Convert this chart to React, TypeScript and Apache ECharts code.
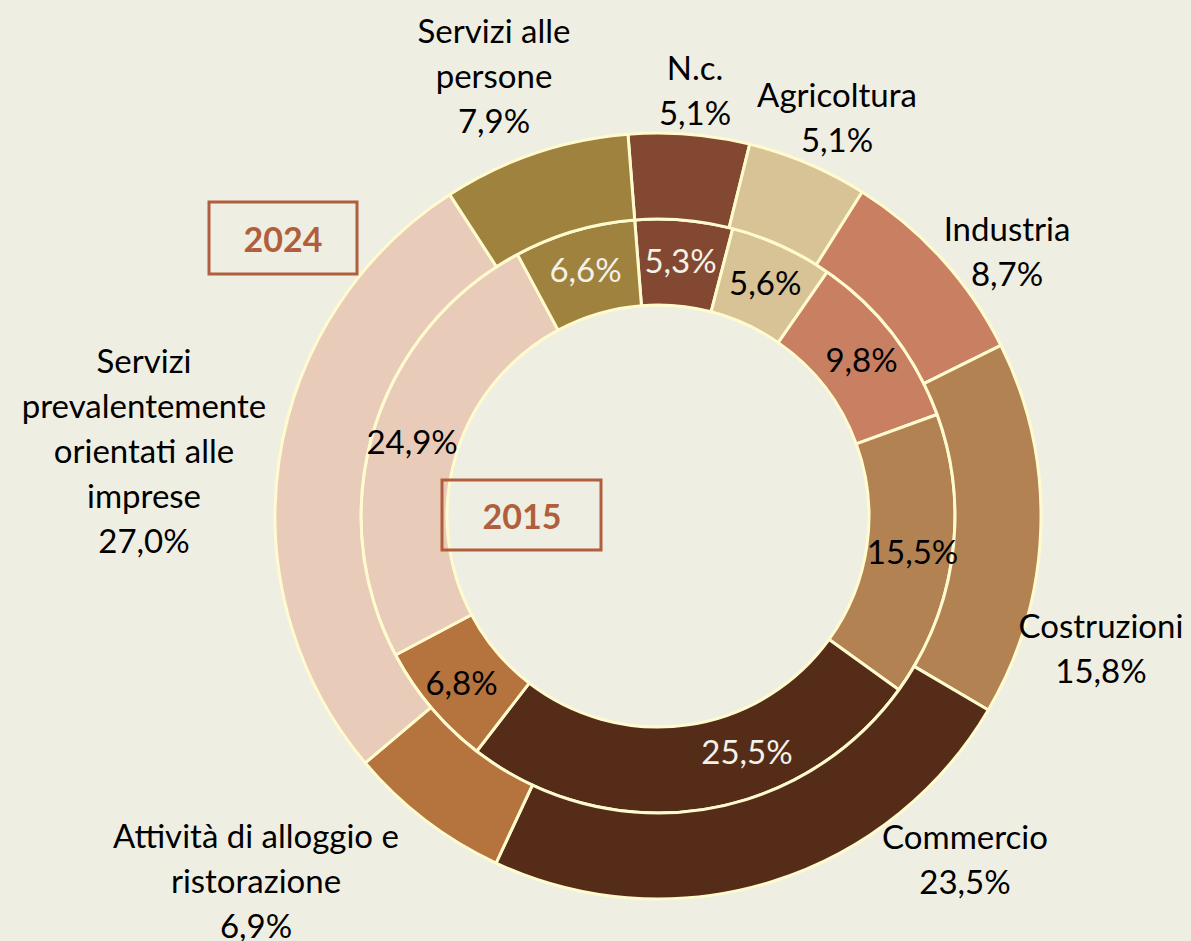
import React, { useEffect, useRef } from "react";
import * as echarts from "echarts";

const categories = [
  "N.c.",
  "Agricoltura",
  "Industria",
  "Costruzioni",
  "Commercio",
  "Attività di alloggio e ristorazione",
  "Servizi prevalentemente orientati alle imprese",
  "Servizi alle persone",
];
const values2024 = [5.1, 5.1, 8.7, 15.8, 23.5, 6.9, 27.0, 7.9];
const values2015 = [5.3, 5.6, 9.8, 15.5, 25.5, 6.8, 24.9, 6.6];
const yearLabels = ["2024", "2015"];

const wrappedNames: Record<string, string> = {
  "Attività di alloggio e ristorazione": "Attività di alloggio e\nristorazione",
  "Servizi prevalentemente orientati alle imprese": "Servizi\nprevalentemente\norientati alle\nimprese",
  "Servizi alle persone": "Servizi alle\npersone",
};

const colors = ["#834831", "#D7C396", "#C98062", "#B28252", "#552C18", "#B5733E", "#E8CCB9", "#9E823E"];
const innerTextColors = ["#F3F1E8", "#000000", "#000000", "#000000", "#F3F1E8", "#000000", "#000000", "#F3F1E8"];

// label layout (block centres / shifts), not data
const outerLabelPos = [
  [695, 89], [837, 116], [1007, 250], [1101, 647], [965, 858], [256, 880], [144, 450], [494, 75],
];
const innerLabelShift = [
  [0, 0], [0, 0], [0, 0], [0, 0], [52, -19], [0, 0], [0, 0], [0, 0],
];

const BG = "#EFEEE3";
const STROKE = "#FFFBCF";
const BOX = "#B05E3C";
const FONT = "Lato";

const fmt = (v: number) => v.toFixed(1).replace(".", ",") + "%";

export default function App() {
  const ref = useRef<HTMLDivElement>(null);
  useEffect(() => {
    document.body.style.margin = "0";
    const chart = echarts.init(ref.current!, undefined, { renderer: "svg" });
    const center = [658, 516];
    chart.setOption({
      animation: false,
      backgroundColor: BG,
      series: [
        {
          name: "2015",
          type: "pie",
          center,
          radius: [211, 297],
          startAngle: 94.5,
          clockwise: true,
          emphasis: { disabled: true },
          itemStyle: { borderColor: STROKE, borderWidth: 3 },
          label: {
            show: true,
            position: "inside",
            fontFamily: FONT,
            fontSize: 33,
            overflow: "none",
            formatter: (p: any) => fmt(p.value),
          },
          labelLayout: (p: any) => {
            const s = innerLabelShift[p.dataIndex];
            return { dx: s[0], dy: s[1] };
          },
          data: categories.map((c, i) => ({
            name: c,
            value: values2015[i],
            itemStyle: { color: colors[i] },
            label: { color: innerTextColors[i] },
          })),
        },
        {
          name: "2024",
          type: "pie",
          center,
          radius: [297, 383],
          startAngle: 94.5,
          clockwise: true,
          avoidLabelOverlap: false,
          emphasis: { disabled: true },
          itemStyle: { borderColor: STROKE, borderWidth: 3 },
          labelLine: { show: false },
          label: {
            show: true,
            position: "outside",
            alignTo: "none",
            overflow: "none",
            fontFamily: FONT,
            fontSize: 33,
            lineHeight: 45,
            color: "#000000",
            formatter: (p: any) => (wrappedNames[p.name] || p.name) + "\n" + fmt(p.value),
          },
          labelLayout: (p: any) => {
            const pos = outerLabelPos[p.dataIndex];
            return { x: pos[0], y: pos[1], align: "center", verticalAlign: "middle" };
          },
          data: categories.map((c, i) => ({
            name: c,
            value: values2024[i],
            itemStyle: { color: colors[i] },
          })),
        },
      ],
      graphic: [
        {
          type: "rect",
          z: 100,
          shape: { x: 209, y: 202, width: 148, height: 72 },
          style: { fill: "none", stroke: BOX, lineWidth: 3 },
        },
        {
          type: "text",
          z: 100,
          x: 283,
          y: 238,
          style: {
            text: yearLabels[0],
            fill: BOX,
            fontFamily: FONT,
            fontWeight: "bold",
            fontSize: 34,
            align: "center",
            verticalAlign: "middle",
            textAlign: "center",
            textVerticalAlign: "middle",
          },
        },
        {
          type: "rect",
          z: 100,
          shape: { x: 442, y: 480, width: 159, height: 70 },
          style: { fill: "none", stroke: BOX, lineWidth: 3 },
        },
        {
          type: "text",
          z: 100,
          x: 522,
          y: 515,
          style: {
            text: yearLabels[1],
            fill: BOX,
            fontFamily: FONT,
            fontWeight: "bold",
            fontSize: 34,
            align: "center",
            verticalAlign: "middle",
            textAlign: "center",
            textVerticalAlign: "middle",
          },
        },
      ],
    });
    return () => chart.dispose();
  }, []);
  return <div ref={ref} style={{ width: 1191, height: 941 }} />;
}
